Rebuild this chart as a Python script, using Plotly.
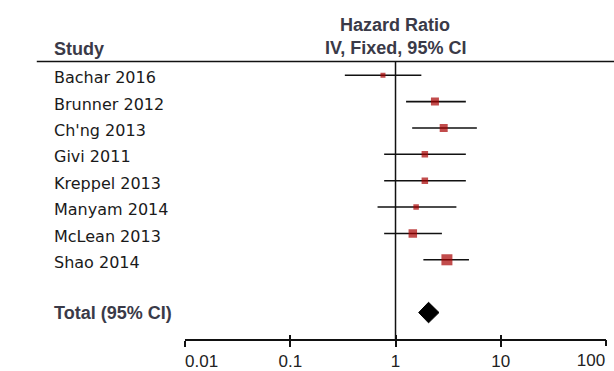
import plotly.graph_objects as go

studies = ["Bachar 2016", "Brunner 2012", "Ch'ng 2013", "Givi 2011", "Kreppel 2013",
           "Manyam 2014", "McLean 2013", "Shao 2014"]
hr = [0.76, 2.37, 2.87, 1.90, 1.90, 1.57, 1.46, 3.08]
ci_low = [0.33, 1.26, 1.44, 0.78, 0.78, 0.675, 0.78, 1.84]
ci_high = [1.76, 4.66, 5.93, 4.66, 4.66, 3.79, 2.76, 4.99]
weights = [5, 8, 8, 6.5, 6.5, 5.5, 8.5, 11]   # marker size ~ study weight

total_label = "Total (95% CI)"
total_hr = 2.06
total_low = 1.66
total_high = 2.59

tick_vals = [0.01, 0.1, 1, 10]
NB = "\u00a0"
tick_text = [NB * 7 + "0.01", "0.1", "1", "10"]
end_tick_val = [100]
end_tick_text = ["100"]

W, H = 614, 371
def py(p):
    return (H - p) / H

rows = list(range(len(studies)))
total_row = len(studies) + 1
y_top = -0.52
y_bottom = 10.0

fig = go.Figure()
fig.add_trace(go.Scatter(
    x=hr, y=rows, mode="markers",
    marker=dict(symbol="square", size=weights, color="#a80000", line=dict(width=0)),
    error_x=dict(type="data", symmetric=False,
                 array=[h - m for h, m in zip(ci_high, hr)],
                 arrayminus=[m - l for m, l in zip(hr, ci_low)],
                 color="#111111", thickness=1.6, width=0),
    showlegend=False, hoverinfo="skip"))

dh = 0.39
fig.add_trace(go.Scatter(
    x=[total_low, total_hr, total_high, total_hr, total_low],
    y=[total_row, total_row - dh, total_row, total_row + dh, total_row],
    mode="lines", fill="toself", fillcolor="#000000",
    line=dict(color="#000000", width=1), showlegend=False, hoverinfo="skip"))

for ax in ("x2", "x3"):
    fig.add_trace(go.Scatter(x=[1], y=[0], xaxis=ax, mode="markers",
                             marker=dict(opacity=0), showlegend=False, hoverinfo="skip"))

xdom = [160.7 / W, 605.5 / W]
ydom = [py(344.5), py(62.5)]
tickfont = dict(family="Liberation Sans, Arial", size=17, color="#222222")

fig.update_layout(
    width=W, height=H, margin=dict(l=0, r=0, t=0, b=0),
    paper_bgcolor="white", plot_bgcolor="white",
    xaxis=dict(type="log", range=[-2, 2], domain=xdom,
               tickvals=tick_vals, ticktext=tick_text,
               showgrid=False, zeroline=False,
               showline=True, linecolor="#111111", linewidth=1.5,
               ticks="outside", ticklen=6, tickwidth=1.5, tickcolor="#111111",
               tickfont=tickfont, anchor="y"),
    xaxis2=dict(type="log", range=[-2, 2], domain=xdom, overlaying="x",
                anchor="y", side="bottom",
                tickvals=tick_vals + end_tick_val, showticklabels=False,
                showgrid=False, zeroline=False, showline=False,
                ticks="inside", ticklen=4, tickwidth=1.5, tickcolor="#111111"),
    xaxis3=dict(type="log", range=[-2, 2], domain=xdom, overlaying="x",
                anchor="y", side="bottom",
                tickvals=end_tick_val, ticktext=end_tick_text,
                ticklabelposition="outside left", ticklabelstandoff=6,
                showgrid=False, zeroline=False, showline=False,
                ticks="outside", ticklen=6, tickwidth=1.5, tickcolor="#111111",
                tickfont=tickfont),
    yaxis=dict(range=[y_bottom, y_top], domain=ydom,
               showgrid=False, zeroline=False, showline=False,
               showticklabels=False, ticks=""),
    font=dict(family="Liberation Sans, Arial"),
)

fig.add_shape(type="line", xref="paper", yref="paper",
              x0=4 / W, x1=1, y0=py(62.5), y1=py(62.5),
              line=dict(color="#111111", width=1.5))
fig.add_shape(type="line", xref="x", yref="y",
              x0=1, x1=1, y0=y_top, y1=y_bottom,
              line=dict(color="#111111", width=1.5))

lab_font = dict(family="DejaVu Sans, Liberation Sans", size=16, color="#1a1a1a")
for i, s in enumerate(studies):
    fig.add_annotation(text=s, xref="paper", yref="y", x=20 / W, y=i + 0.1,
                       xanchor="left", yanchor="middle", showarrow=False, font=lab_font)

hdr_font = dict(family="Liberation Sans, Arial", size=18, color="#3a3a48")
fig.add_annotation(text="<b>" + total_label + "</b>", xref="paper", yref="y",
                   x=20 / W, y=total_row, xanchor="left", yanchor="middle",
                   showarrow=False, font=hdr_font)
fig.add_annotation(text="<b>Study</b>", xref="paper", yref="paper",
                   x=20 / W, y=py(50), xanchor="left", yanchor="middle",
                   showarrow=False, font=hdr_font)
fig.add_annotation(text="<b>Hazard Ratio</b>", xref="paper", yref="paper",
                   x=383 / W, y=py(25), xanchor="center", yanchor="middle",
                   showarrow=False, font=hdr_font)
fig.add_annotation(text="<b>IV, Fixed, 95% CI</b>", xref="paper", yref="paper",
                   x=383 / W, y=py(49), xanchor="center", yanchor="middle",
                   showarrow=False, font=hdr_font)

fig.write_html("out.html", config={"displayModeBar": False},
               post_script="document.body.style.margin='0';document.body.style.padding='0';document.documentElement.style.overflow='hidden';")
